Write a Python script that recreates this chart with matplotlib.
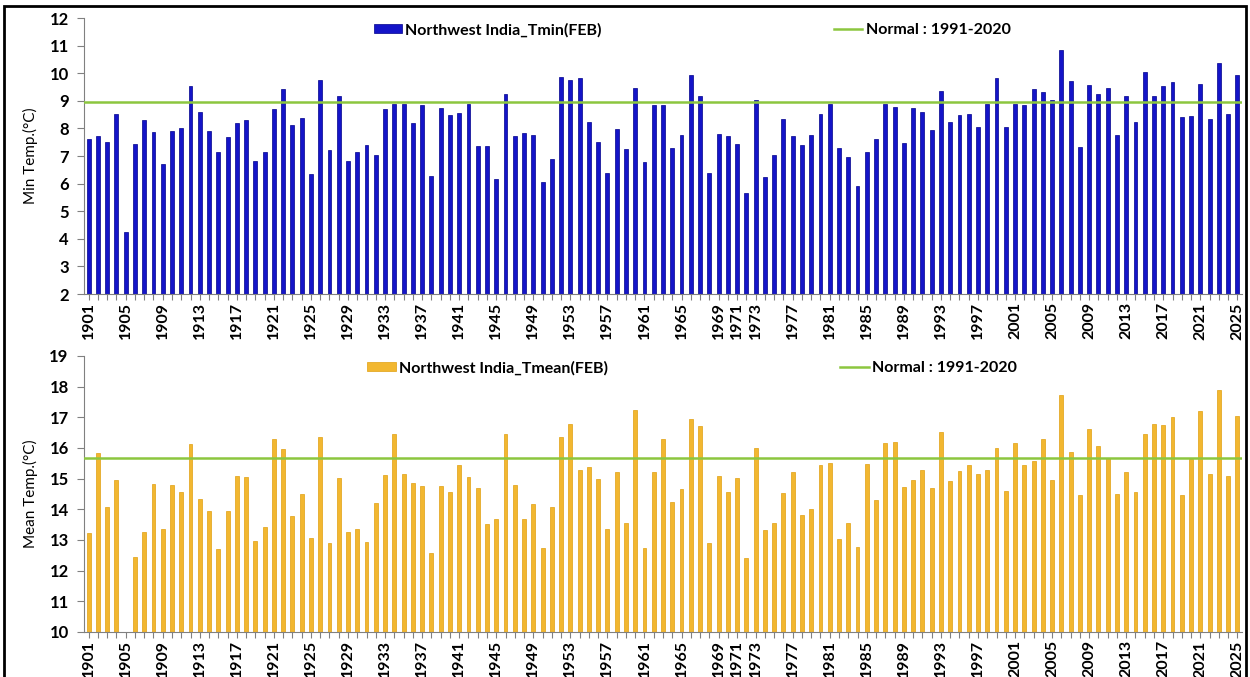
import numpy as np
import matplotlib
matplotlib.use('Agg')
import matplotlib.pyplot as plt
from matplotlib.patches import Rectangle

plt.rcParams['font.family'] = ['Lato', 'DejaVu Sans']

years = list(range(1901, 2026))

# February minimum temperature, Northwest India (deg C)
tmin = [7.62, 7.74, 7.50, 8.53, 4.23, 7.44, 8.29, 7.86, 6.72, 7.90,
        8.00, 9.53, 8.59, 7.92, 7.13, 7.68, 8.19, 8.29, 6.81, 7.13,
        8.72, 9.41, 8.14, 8.39, 6.36, 9.74, 7.23, 9.19, 6.83, 7.16,
        7.41, 7.02, 8.69, 8.90, 8.90, 8.20, 8.84, 6.26, 8.74, 8.47,
        8.56, 8.90, 7.35, 7.35, 6.16, 9.23, 7.74, 7.85, 7.77, 6.05,
        6.89, 9.88, 9.76, 9.82, 8.22, 7.50, 6.38, 7.99, 7.26, 9.45,
        6.77, 8.84, 8.86, 7.29, 7.75, 9.93, 9.17, 6.39, 7.78, 7.72,
        7.43, 5.66, 9.04, 6.25, 7.02, 8.34, 7.72, 7.39, 7.75, 8.53,
        8.90, 7.29, 6.96, 5.91, 7.15, 7.63, 8.90, 8.78, 7.47, 8.74,
        8.59, 7.96, 9.35, 8.23, 8.47, 8.53, 8.06, 8.90, 9.83, 8.06,
        8.90, 8.84, 9.41, 9.32, 9.04, 10.84, 9.71, 7.33, 9.59, 9.23,
        9.45, 7.77, 9.17, 8.25, 10.04, 9.17, 9.55, 9.68, 8.41, 8.44,
        9.62, 8.35, 10.36, 8.53, 9.92]

# February mean temperature, Northwest India (deg C); 1905 falls below the axis
tmean = [13.22, 15.83, 14.09, 14.94, 9.80, 12.45, 13.25, 14.84, 13.36, 14.78,
         14.55, 16.12, 14.32, 13.94, 12.71, 13.94, 15.10, 15.06, 12.98, 13.42,
         16.28, 15.96, 13.79, 14.50, 13.08, 16.37, 12.91, 15.03, 13.25, 13.37,
         12.94, 14.22, 15.12, 16.47, 15.16, 14.85, 14.77, 12.57, 14.77, 14.55,
         15.45, 15.06, 14.68, 13.52, 13.68, 16.47, 14.78, 13.70, 14.16, 12.75,
         14.06, 16.35, 16.78, 15.29, 15.37, 14.99, 13.36, 15.23, 13.54, 17.24,
         12.73, 15.23, 16.28, 14.25, 14.67, 16.95, 16.71, 12.89, 15.08, 14.57,
         15.01, 12.42, 16.00, 13.32, 13.56, 14.54, 15.23, 13.83, 14.02, 15.45,
         15.50, 13.04, 13.54, 12.77, 15.47, 14.29, 16.16, 16.18, 14.73, 14.94,
         15.27, 14.68, 16.51, 14.92, 15.26, 15.45, 15.16, 15.29, 16.00, 14.59,
         16.16, 15.45, 15.58, 16.28, 14.94, 17.72, 15.88, 14.47, 16.62, 16.05,
         15.66, 14.51, 15.21, 14.56, 16.47, 16.78, 16.74, 17.01, 14.48, 15.65,
         17.19, 15.14, 17.89, 15.10, 17.05]

normal_tmin = 8.96
normal_tmean = 15.68

label_years = [1901, 1905, 1909, 1913, 1917, 1921, 1925, 1929, 1933, 1937,
               1941, 1945, 1949, 1953, 1957, 1961, 1965, 1969, 1971, 1973,
               1977, 1981, 1985, 1989, 1993, 1997, 2001, 2005, 2009, 2013,
               2017, 2021, 2025]

fig = plt.figure(figsize=(12.5, 6.77), dpi=100)
ax1 = fig.add_axes([0.0672, 0.5657, 0.9264, 0.4077])
ax2 = fig.add_axes([0.0672, 0.0665, 0.9264, 0.4077])


def draw_panel(ax, vals, normal, color, edge, label, ylabel, ylo, yhi):
    bars = ax.bar(years, vals, width=0.42, color=color, edgecolor=edge,
                  linewidth=0.5, label=label, zorder=2)
    line, = ax.plot([1900.5, 2025.5], [normal, normal], color='#8CC63F',
                    lw=1.8, label='Normal : 1991-2020', zorder=3)
    ax.set_xlim(1900.5, 2025.5)
    ax.set_ylim(ylo, yhi)
    ax.set_yticks(range(ylo, yhi + 1))
    ax.set_xticks(label_years)
    ax.set_xticks(years, minor=True)
    ax.tick_params(axis='x', which='both', direction='out', length=4,
                   color='#808080', width=0.8, pad=2)
    ax.tick_params(axis='y', direction='out', length=5, color='#808080',
                   width=0.8, pad=6)
    for lab in ax.get_yticklabels():
        lab.set_fontweight('bold')
        lab.set_fontsize(12)
    ax.set_xticklabels([str(y) for y in label_years], rotation=90,
                       fontweight='bold', fontsize=11.5)
    for s in ['top', 'right']:
        ax.spines[s].set_visible(False)
    for s in ['left', 'bottom']:
        ax.spines[s].set_color('#808080')
        ax.spines[s].set_linewidth(0.8)
    ax.set_ylabel(ylabel, fontsize=11, labelpad=8)
    ax.legend([bars, line], [label, 'Normal : 1991-2020'], loc='upper center',
              bbox_to_anchor=(0.525, 1.035), ncol=2, frameon=False,
              columnspacing=14.5, handlelength=1.8, handleheight=0.5,
              handletextpad=0.2, prop={'weight': 'bold', 'size': 11.5})


draw_panel(ax1, tmin, normal_tmin, '#1414C8', '#00008B',
           'Northwest India_Tmin(FEB)', 'Min Temp.(\u00b0C)', 2, 12)
draw_panel(ax2, tmean, normal_tmean, '#F2B730', '#E0A010',
           'Northwest India_Tmean(FEB)', 'Mean Temp.(\u00b0C)', 10, 19)

# outer frame of the picture
fig.patches.append(Rectangle((4 / 1250, -0.02), 1242 / 1250, 1 - 6 / 677 + 0.02,
                             transform=fig.transFigure, fill=False,
                             edgecolor='black', linewidth=2))

fig.savefig('out.png', dpi=100)
